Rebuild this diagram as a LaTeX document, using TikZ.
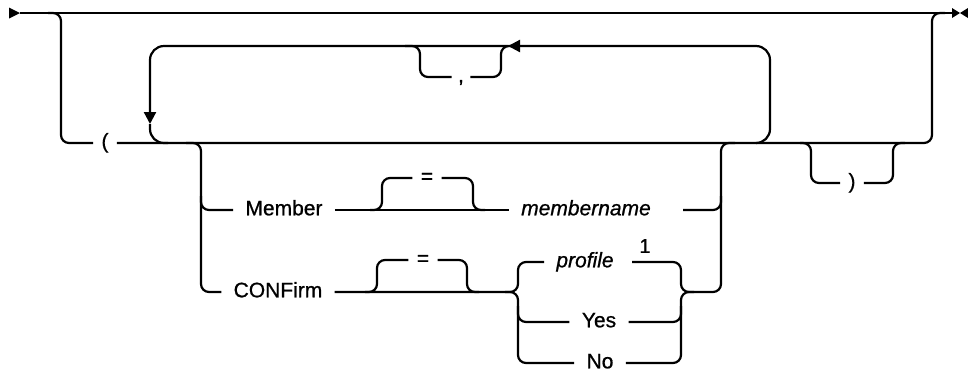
\documentclass[tikz,border=0pt]{standalone}
\usepackage{fontspec}
\setmainfont{Liberation Sans}[FakeBold=0.8]
\usetikzlibrary{arrows.meta, positioning}

\begin{document}
\begin{tikzpicture}[
    x=0.5pt, y=-0.5pt,
    track/.style={line width=1.1pt, rounded corners=4pt},
    bigloop/.style={track, rounded corners=7pt},
    tip/.style={-{Triangle[length=6pt, width=6pt]}},
    word/.style={inner xsep=6pt, inner ysep=2pt, anchor=mid,
        font=\fontsize{10.5}{12}\selectfont},
    var/.style={word, font=\fontsize{10.5}{12}\selectfont\itshape},
    sym/.style={word, inner xsep=4pt},
    note/.style={inner sep=0pt, font=\fontsize{10}{11}\selectfont}
]
\useasboundingbox (0,0) rectangle (968,372);
% main line with start and end marks
\coordinate (start) at (20,13);
\coordinate (stop) at (952,13);
\fill (9,7.5) -- (start) -- (9,18.5) -- cycle;
\fill (stop) -- (960,13) -- (952,18) -- (952,8) -- (960,13) -- cycle;
\fill (968,8) -- (960,13) -- (968,18) -- cycle;
\draw[track] (start) -- (stop);

\node[sym] (lparen) at (105,143) {(};
\node[sym, inner xsep=3pt] (comma) at (461,77) {,};
\node[word] (member) at (284,210) {Member};
\node[sym] (eqm) at (427,178) {=};
\node[var] (mname) at (586,210) {membername};
\node[word] (confirm) at (278,292) {CONFirm};
\node[sym] (eqc) at (423,260) {=};
\node[var] (profile) at (585,262) {profile};
\node[note] (fn1) at (645,246) {1};
\node[word] (yes) at (599,322) {Yes};
\node[word] (no) at (600,363) {No};
\node[sym] (rparen) at (852,183) {)};

% optional group
\draw[track] (48,13) -- (61,13) -- (61,143) -- (lparen.mid west);
\draw[track] (lparen.mid east) -- (932,143) -- (932,13) -- (945,13);

% repeat loop
\draw[bigloop, tip] (757,143) -- (770,143) -- (770,46) -- (508,46);
\draw[bigloop, tip] (508,46) -- (150,46) -- (150,124);
\draw[bigloop] (150,124) -- (150,143) -- (168,143);
\draw[track] (405,46) -- (420,46) -- (420,77) -- (comma.mid west);
\draw[track] (comma.mid east) -- (501,77) -- (501,46) -- (514,46);

% Member / CONFirm choice
\draw[track] (186,143) -- (201,143) -- (201,292) -- (confirm.mid west);
\draw[track] (201,196) -- (201,210) -- (member.mid west);
\draw[track] (member.mid east) -- (mname.mid west);
\draw[track] (370,210) -- (382,210) -- (382,178) -- (eqm.mid west);
\draw[track] (eqm.mid east) -- (473,178) -- (473,210) -- (485,210);
\draw[track] ([xshift=10pt]mname.mid east) -- (721,210) -- (721,196);
\draw[track] (confirm.mid east) -- (518,292) -- (518,262) -- (profile.mid west);
\draw[track] (505,292) -- (518,292) -- (518,363) -- (no.mid west);
\draw[track] (518,306) -- (518,322) -- (yes.mid west);
\draw[track] (365,292) -- (377,292) -- (377,260) -- (eqc.mid west);
\draw[track] (eqc.mid east) -- (467,260) -- (467,292) -- (479,292);
\draw[track] ([xshift=3pt]profile.mid east) -- (681,262) -- (681,292) -- (694,292);
\draw[track] (yes.mid east) -- (681,322) -- (681,306);
\draw[track] (no.mid east) -- (681,363) -- (681,292) -- (721,292) -- (721,143) -- (735,143);

% closing parenthesis
\draw[track] (800,143) -- (811,143) -- (811,183) -- (rparen.mid west);
\draw[track] (rparen.mid east) -- (893,183) -- (893,143) -- (905,143);
\end{tikzpicture}
\end{document}
